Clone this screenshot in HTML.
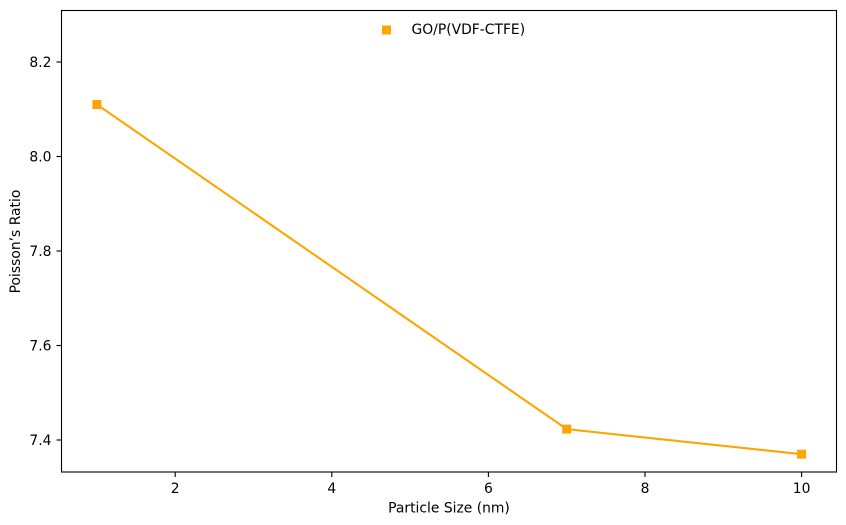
<!DOCTYPE html>
<html>
<head>
<meta charset="utf-8">
<style>
html,body{margin:0;padding:0;background:#fff;}
svg{display:block;}
text{font-family:"DejaVu Sans",sans-serif;fill:#000;font-size:13.89px;}
</style>
</head>
<body>
<svg id="chart" xmlns="http://www.w3.org/2000/svg" width="846" height="525" viewBox="0 0 846 525">
<rect x="0" y="0" width="846" height="525" fill="#fff"/>
<g id="marks"></g>
<rect x="61.5" y="10.5" width="775" height="461.5" fill="none" stroke="#000" stroke-width="1.1"/>
<g id="axes"></g>
<text x="449" y="512.5" text-anchor="middle">Particle Size (nm)</text>
<text transform="translate(20 241.5) rotate(-90)" text-anchor="middle">Poisson’s Ratio</text>
<g>
<rect x="382" y="25.5" width="9" height="9" fill="#ffa500"/>
<text x="411.5" y="34">GO/P(VDF-CTFE)</text>
</g>
</svg>
<script>
const particleSizes = [1, 7, 10];
const poissonRatios = [8.11, 7.423, 7.37];
const xTicks = [2, 4, 6, 8, 10];
const yTicks = [7.4, 7.6, 7.8, 8.0, 8.2];
const yTickLabels = ['7.4', '7.6', '7.8', '8.0', '8.2'];

const NS = 'http://www.w3.org/2000/svg';
function xScale(v) { return 175.2 + (v - 2) * 78.3; }
function yScale(v) { return 440 - (v - 7.4) * 472.5; }

const marks = document.getElementById('marks');
const axes = document.getElementById('axes');

const line = document.createElementNS(NS, 'polyline');


line.setAttribute('points', particleSizes.map((x, i) => xScale(x) + ',' + yScale(poissonRatios[i])).join(' '));
line.setAttribute('fill', 'none');
line.setAttribute('stroke', '#ffa500');
line.setAttribute('stroke-width', '2.08');
marks.appendChild(line);

particleSizes.forEach((x, i) => {
  const p = document.createElementNS(NS, 'rect');
  
  
  p.setAttribute('x', xScale(x) - 4.5);
  p.setAttribute('y', yScale(poissonRatios[i]) - 4.5);
  p.setAttribute('width', 9);
  p.setAttribute('height', 9);
  p.setAttribute('fill', '#ffa500');
  marks.appendChild(p);
});

xTicks.forEach((t) => {
  const m = document.createElementNS(NS, 'line');
  
  
  m.setAttribute('x1', xScale(t));
  m.setAttribute('x2', xScale(t));
  m.setAttribute('y1', 472);
  m.setAttribute('y2', 477);
  m.setAttribute('stroke', '#000');
  m.setAttribute('stroke-width', '1.1');
  axes.appendChild(m);
  const l = document.createElementNS(NS, 'text');
  
  
  l.setAttribute('x', xScale(t));
  l.setAttribute('y', 493);
  l.setAttribute('text-anchor', 'middle');
  l.textContent = String(t);
  axes.appendChild(l);
});

yTicks.forEach((t, i) => {
  const m = document.createElementNS(NS, 'line');
  
  
  m.setAttribute('x1', 56.5);
  m.setAttribute('x2', 61.5);
  m.setAttribute('y1', yScale(t));
  m.setAttribute('y2', yScale(t));
  m.setAttribute('stroke', '#000');
  m.setAttribute('stroke-width', '1.1');
  axes.appendChild(m);
  const l = document.createElementNS(NS, 'text');
  
  
  l.setAttribute('x', 51.5);
  l.setAttribute('y', yScale(t) + 5);
  l.setAttribute('text-anchor', 'end');
  l.textContent = yTickLabels[i];
  axes.appendChild(l);
});
</script>
</body>
</html>
